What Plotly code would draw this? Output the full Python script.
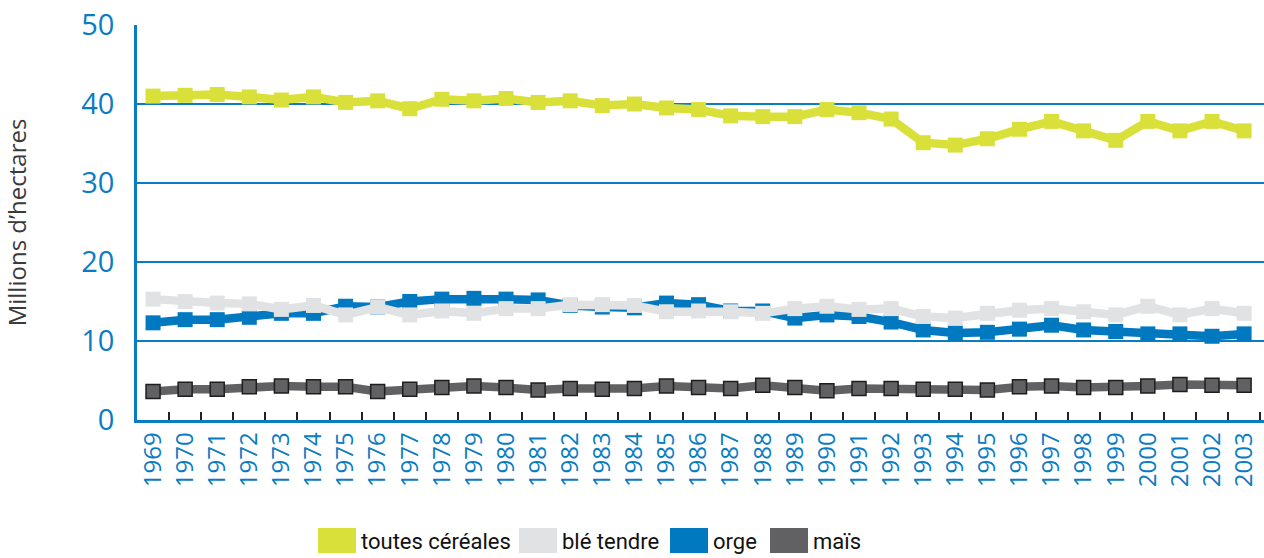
import plotly.graph_objects as go

years = ["1969", "1970", "1971", "1972", "1973", "1974", "1975", "1976", "1977", "1978",
         "1979", "1980", "1981", "1982", "1983", "1984", "1985", "1986", "1987", "1988",
         "1989", "1990", "1991", "1992", "1993", "1994", "1995", "1996", "1997", "1998",
         "1999", "2000", "2001", "2002", "2003"]

toutes_cereales = [41.0, 41.1, 41.2, 40.9, 40.5, 40.9, 40.2, 40.4, 39.4, 40.6,
                   40.4, 40.7, 40.2, 40.4, 39.8, 40.0, 39.5, 39.3, 38.5, 38.4,
                   38.4, 39.3, 38.9, 38.1, 35.1, 34.8, 35.6, 36.8, 37.8, 36.6,
                   35.4, 37.8, 36.6, 37.8, 36.6]
ble_tendre = [15.3, 15.0, 14.8, 14.7, 14.0, 14.5, 13.3, 14.3, 13.3, 13.8,
              13.5, 14.1, 14.1, 14.6, 14.6, 14.5, 13.7, 13.8, 13.7, 13.5,
              14.1, 14.4, 14.0, 14.1, 13.1, 12.9, 13.5, 13.9, 14.1, 13.7,
              13.3, 14.4, 13.3, 14.1, 13.5]
orge = [12.3, 12.7, 12.7, 13.0, 13.5, 13.5, 14.4, 14.3, 15.0, 15.3,
        15.4, 15.3, 15.2, 14.5, 14.3, 14.2, 14.8, 14.6, 13.8, 13.8,
        12.9, 13.3, 13.1, 12.4, 11.4, 11.0, 11.1, 11.5, 12.0, 11.4,
        11.2, 10.9, 10.9, 10.6, 10.9]
mais = [3.6, 3.9, 3.9, 4.2, 4.3, 4.2, 4.2, 3.6, 3.9, 4.1,
        4.3, 4.1, 3.8, 4.0, 3.9, 4.0, 4.3, 4.1, 4.0, 4.4,
        4.1, 3.7, 4.0, 4.0, 3.9, 3.9, 3.8, 4.2, 4.3, 4.1,
        4.1, 4.3, 4.5, 4.4, 4.4]

series_names = ["toutes céréales", "blé tendre", "orge", "maïs"]
series_colors = ["#DAE03A", "#E1E2E4", "#0079C1", "#616163"]
y_ticks = [0, 10, 20, 30, 40, 50]

AXIS_BLUE = "#0A7CC3"

fig = go.Figure()

def add_series(values, color, name, outline=None):
    fig.add_trace(go.Scatter(
        x=years, y=values, name=name, mode="lines+markers",
        line=dict(color=color, width=8.5),
        marker=dict(symbol="square", size=15 if not outline else 14, color=color,
                    line=dict(color=outline if outline else color,
                              width=1.5 if outline else 0)),
        showlegend=False,
    ))

add_series(toutes_cereales, series_colors[0], series_names[0])
add_series(orge, series_colors[2], series_names[2])
add_series(ble_tendre, series_colors[1], series_names[1])
add_series(mais, series_colors[3], series_names[3], outline="#1e1e1e")

# legend drawn as swatches + text below the plot
plot_left, plot_right, plot_top, plot_bottom = 137, 1264, 25, 420
pw = plot_right - plot_left
ph = plot_bottom - plot_top

def px_x(p):
    return (p - plot_left) / pw

def px_y(p):
    return (plot_bottom - p) / ph

swatch_lefts = [318, 519, 670, 770]
swatch_w = 38
sw_top, sw_bot = 528, 553
for nm, col, sl in zip(series_names, series_colors, swatch_lefts):
    fig.add_shape(type="rect", xref="paper", yref="paper",
                  x0=px_x(sl), x1=px_x(sl + swatch_w),
                  y0=px_y(sw_bot), y1=px_y(sw_top),
                  fillcolor=col, line=dict(width=0), layer="above")
    fig.add_annotation(xref="paper", yref="paper",
                       x=px_x(sl + swatch_w + 3), y=px_y(541),
                       xanchor="left", yanchor="middle", showarrow=False,
                       text=nm,
                       font=dict(family="Roboto, sans-serif",
                                 size=22, color="#111111"))

fig.update_layout(
    width=1264, height=558,
    margin=dict(l=plot_left, r=1264 - plot_right, t=plot_top, b=558 - plot_bottom),
    paper_bgcolor="white", plot_bgcolor="white",
    xaxis=dict(
        type="category",
        range=[-0.5, 34.62],
        automargin=False,
        tickson="boundaries",
        ticks="inside", ticklen=8, tickwidth=1.5, tickcolor="#222222",
        tickangle=-90,
        tickfont=dict(family="Open Sans, sans-serif", size=24, color=AXIS_BLUE),
        showgrid=False,
        showline=True, linecolor=AXIS_BLUE, linewidth=2.5,
    ),
    yaxis=dict(
        range=[0, 50],
        automargin=False,
        tickvals=y_ticks,
        ticks="",
        tickfont=dict(family="Open Sans, sans-serif", size=29, color=AXIS_BLUE),
        ticklabelstandoff=14,
        showgrid=True, gridcolor=AXIS_BLUE, gridwidth=2,
        showline=True, linecolor=AXIS_BLUE, linewidth=2.5,
        zeroline=False,
        title=dict(text="Millions d’hectares", standoff=52,
                   font=dict(family="Open Sans, sans-serif", size=24, color="#3a3a3a")),
    ),
)

fig.write_html("out.html", config={"displayModeBar": False},
               post_script="document.body.style.margin='0';")
